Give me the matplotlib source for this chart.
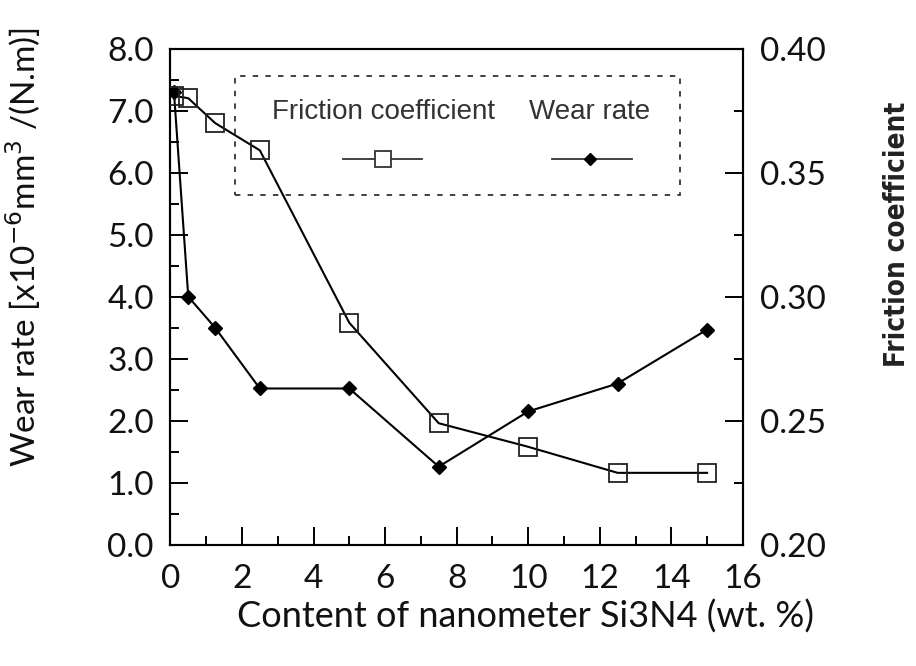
import matplotlib
matplotlib.use("Agg")
from matplotlib import pyplot as plt
from matplotlib.patches import Rectangle
from matplotlib.ticker import MultipleLocator, FormatStrFormatter

# data
content_wear = [0.1, 0.5, 1.25, 2.5, 5.0, 7.5, 10.0, 12.5, 15.0]
wear_rate = [7.3, 4.0, 3.5, 2.52, 2.52, 1.26, 2.15, 2.6, 3.47]

content_fric = [0.1, 0.5, 1.25, 2.5, 5.0, 7.5, 10.0, 12.5, 15.0]
friction = [0.381, 0.380, 0.370, 0.359, 0.2895, 0.249, 0.2395, 0.229, 0.229]

x_ticks = [0, 2, 4, 6, 8, 10, 12, 14, 16]
legend_labels = ["Friction coefficient", "Wear rate"]

tick_font = "Lato"

fig = plt.figure(figsize=(9.16, 6.66), dpi=100)
ax = fig.add_axes([0.186, 0.182, 0.625, 0.745])
ax2 = ax.twinx()

# wear rate on the left axis
ax.plot(content_wear, wear_rate, color="black", lw=1.5, marker="D",
        markersize=7, markerfacecolor="black", markeredgecolor="black", zorder=3)
# friction coefficient on the right axis
ax2.plot(content_fric, friction, color="black", lw=1.5, marker="s",
         markersize=13, markerfacecolor="none", markeredgecolor="#222222",
         markeredgewidth=1.3, zorder=3)

ax.set_xlim(0, 16)
ax.set_ylim(0, 8)
ax2.set_ylim(0.20, 0.40)

ax.set_xticks(x_ticks)
ax.xaxis.set_minor_locator(MultipleLocator(1))
ax.yaxis.set_major_locator(MultipleLocator(1))
ax.yaxis.set_minor_locator(MultipleLocator(0.5))
ax.yaxis.set_major_formatter(FormatStrFormatter("%.1f"))
ax2.yaxis.set_major_locator(MultipleLocator(0.05))
ax2.yaxis.set_minor_locator(MultipleLocator(0.025))
ax2.yaxis.set_major_formatter(FormatStrFormatter("%.2f"))

ax.tick_params(axis="both", which="major", direction="in", length=13, width=1.4,
               labelsize=24, pad=12)
ax.tick_params(axis="both", which="minor", direction="in", length=6.5, width=1.4)
ax.tick_params(axis="x", pad=14)
ax2.tick_params(axis="y", which="major", direction="in", length=13, width=1.4,
                labelsize=24, pad=12)
ax2.tick_params(axis="y", which="minor", direction="in", length=6.5, width=1.4)
for a in (ax, ax2):
    for lab in a.get_xticklabels() + a.get_yticklabels():
        lab.set_fontfamily(tick_font)
        lab.set_color("#111111")
    for s in a.spines.values():
        s.set_linewidth(1.5)

ax.set_xlabel("Content of nanometer Si3N4 (wt. %)", fontsize=26,
              fontfamily=tick_font, color="#111111")
ax.xaxis.set_label_coords(0.62, -0.11)
ax.set_ylabel(r"Wear rate [x10$^{-6}$mm$^{3}$ /(N.m)]", fontsize=24,
              fontfamily=tick_font, color="#111111")
ax.yaxis.set_label_coords(-0.222, 0.6)
ax2.set_ylabel("Friction coefficient", fontsize=20, fontweight="bold",
               fontstretch="condensed",
               fontfamily=["Liberation Sans Narrow", "DejaVu Sans"],
               color="#222222", rotation=90)
ax2.yaxis.set_label_coords(1.245, 0.625)

# hand-drawn legend box in the style of the original
tr = ax2.transAxes
ax2.add_patch(Rectangle((0.113, 0.704), 0.777, 0.240, transform=tr, fill=False,
                        linestyle=(0, (3, 4)), lw=1.3, edgecolor="#333333", zorder=4))
ax2.text(0.372, 0.873, legend_labels[0], transform=tr, ha="center", va="center",
         fontsize=20, fontfamily="Liberation Sans", color="#333333")
ax2.text(0.733, 0.873, legend_labels[1], transform=tr, ha="center", va="center",
         fontsize=20, fontfamily="Liberation Sans", color="#333333")
ax2.plot([0.302, 0.440], [0.778, 0.778], transform=tr, color="#333333", lw=1.3)
ax2.plot([0.372], [0.778], transform=tr, marker="s", markersize=11,
         markerfacecolor="white", markeredgecolor="#333333", markeredgewidth=1.3)
ax2.plot([0.667, 0.806], [0.778, 0.778], transform=tr, color="#333333", lw=1.3)
ax2.plot([0.733], [0.778], transform=tr, marker="D", markersize=6,
         color="black")

fig.savefig("out.png", dpi=100)
